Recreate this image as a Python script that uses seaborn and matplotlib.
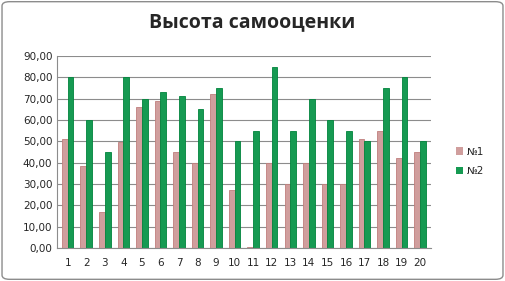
import pandas as pd
import numpy as np
import matplotlib.pyplot as plt
import seaborn as sns
from matplotlib.patches import FancyBboxPatch

# данные
students = list(range(1, 21))
series1 = [51, 38.5, 17, 49.5, 66, 69, 45, 40, 72, 27, 0.5, 40, 30, 40, 30, 30, 51, 55, 42, 45]
series2 = [80, 60, 45, 80, 70, 73, 71, 65, 75, 50, 55, 85, 55, 70, 60, 55, 50, 75, 80, 50]
labels = ['№1', '№2']
y_ticks = [0, 10, 20, 30, 40, 50, 60, 70, 80, 90]

df = pd.DataFrame({
    'n': [str(s) for s in students] * 2,
    'val': series1 + series2,
    'grp': [labels[0]] * 20 + [labels[1]] * 20,
})

sns.set_style('white')
plt.rcParams['font.family'] = ['DejaVu Sans']

fig = plt.figure(figsize=(5.05, 2.81), dpi=100)
ax = fig.add_axes([0.112, 0.118, 0.742, 0.683])

sns.barplot(data=df, x='n', y='val', hue='grp', palette=['#D99694', '#00B050'],
            width=0.62, ax=ax, edgecolor='none', legend=True)

# тёмная кромка у столбиков (имитация объёма)
for bar, c in zip(ax.patches, ['#C07F7D'] * 20 + ['#00843C'] * 20):
    if bar.get_height() > 0:
        bar.set_edgecolor(c)
        bar.set_linewidth(0.6)

ax.set_ylim(0, 90)
ax.set_yticks(y_ticks)
ax.set_yticklabels([f'{v:.2f}'.replace('.', ',') for v in y_ticks], fontsize=7.5)
ax.tick_params(axis='x', labelsize=7.5, length=0, pad=7)
ax.tick_params(axis='y', length=0, pad=3)
ax.yaxis.grid(True, color='#8C8C8C', linewidth=0.8)
ax.set_axisbelow(True)
for s in ['top', 'right']:
    ax.spines[s].set_visible(False)
ax.spines['left'].set_color('#8C8C8C')
ax.spines['bottom'].set_color('#8C8C8C')
ax.set_xlabel('')
ax.set_ylabel('')
ax.set_xlim(-0.6, 19.6)

fig.suptitle('Высота самооценки', fontsize=14, fontweight='bold', y=0.955,
             x=0.5, family=['Open Sans', 'DejaVu Sans'])

leg = ax.legend(loc='center left', bbox_to_anchor=(1.04, 0.45), frameon=False,
                fontsize=7.5, handlelength=0.7, handleheight=0.7, labelspacing=0.9,
                handletextpad=0.4)

# рамка диаграммы
fig.patches.append(FancyBboxPatch((0.004, 0.006), 0.992, 0.988,
                                  boxstyle='round,pad=0,rounding_size=0.015',
                                  transform=fig.transFigure, fill=False,
                                  edgecolor='#8C8C8C', linewidth=1))

fig.savefig('out.png', dpi=100)
